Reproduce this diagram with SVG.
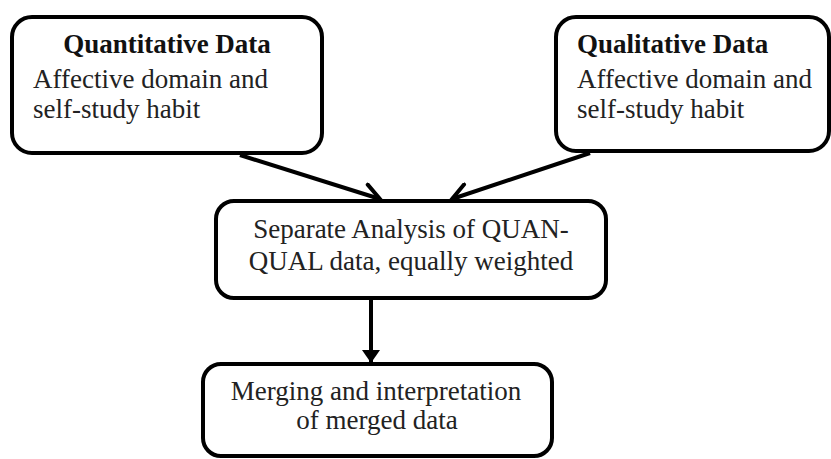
<svg xmlns="http://www.w3.org/2000/svg" width="831" height="459" viewBox="0 0 831 459">
<style>
.box{fill:#fff;stroke:#000;stroke-width:4}
.t{font-family:"Liberation Serif","Times New Roman",serif;font-size:27px;fill:#222}
.b{font-weight:bold;fill:#111}
.c{text-anchor:middle}
.con{stroke:#000;stroke-width:4;fill:none}
</style>
<defs>
<marker id="chev" viewBox="-20 -12 24 24" markerWidth="24" markerHeight="24" refX="0" refY="0" orient="auto" markerUnits="userSpaceOnUse">
<path d="M-16,-10 L0,0 L-16,10" fill="none" stroke="#000" stroke-width="4" stroke-linecap="round"/>
</marker>
<marker id="tri" viewBox="-14 -10 16 20" markerWidth="16" markerHeight="20" refX="0" refY="0" orient="auto" markerUnits="userSpaceOnUse">
<path d="M-13,-9 L0,0 L-13,9 Z" fill="#000"/>
</marker>
</defs>
<rect width="831" height="459" fill="#fff"/>
<g id="connectors">
<line class="con" x1="240" y1="155" x2="380" y2="199" marker-end="url(#chev)"/>
<line class="con" x1="590" y1="153" x2="452" y2="199" marker-end="url(#chev)"/>
<line class="con" x1="371" y1="298" x2="371" y2="363" marker-end="url(#tri)"/>
</g>
<g id="quantitative">
<rect class="box" x="12" y="17" width="310" height="136" rx="20"/>
<text class="t b c" x="167" y="53">Quantitative Data</text>
<text class="t" x="33" y="88">Affective domain and</text>
<text class="t" x="33" y="118">self-study habit</text>
</g>
<g id="qualitative">
<rect class="box" x="556" y="17" width="273" height="134" rx="20"/>
<text class="t b" x="577" y="53">Qualitative Data</text>
<text class="t" x="577" y="88">Affective domain and</text>
<text class="t" x="577" y="118">self-study habit</text>
</g>
<g id="analysis">
<rect class="box" x="216" y="201" width="390" height="97" rx="18"/>
<text class="t c" x="411" y="238">Separate Analysis of QUAN-</text>
<text class="t c" x="411" y="270">QUAL data, equally weighted</text>
</g>
<g id="merging">
<rect class="box" x="203" y="364" width="349" height="92" rx="18"/>
<text class="t c" x="376" y="400">Merging and interpretation</text>
<text class="t c" x="377" y="429">of merged data</text>
</g>
</svg>
